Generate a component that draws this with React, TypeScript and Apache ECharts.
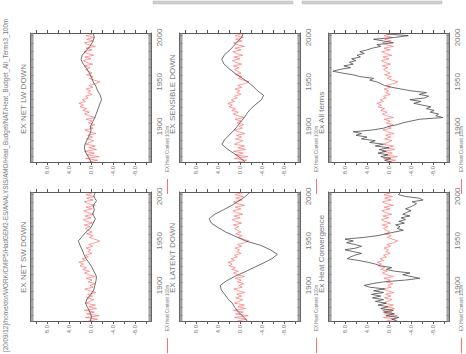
import React, { useEffect, useRef } from "react";
import * as echarts from "echarts";

// ---- data ----
const START_YEAR = 1860;
// Heat content (red), every 2 years from 1860
const heatContent100m = [
  0.5, -1.2, 1.0, -1.5, 0.8, -0.6, 1.2, -1.0, 0.4, -0.8, // 1860-1878
  1.0, 0.2, -0.5, 0.8, -0.3, 0.6, -0.9, 0.3, 1.1, -0.4, // 1880-1898
  0.2, -0.7, 0.5, -0.2, 0.9, -0.8, 0.4, 1.2, 0.3, 1.5, // 1900-1918
  0.8, 2.0, 1.4, 2.2, 1.0, 1.6, 0.5, 1.0, -0.2, 0.6, // 1920-1938
  0.1, 0.9, -0.3, 0.4, -0.8, -1.6, -0.6, 0.3, -0.4, 0.8, // 1940-1958
  -0.2, 0.5, 1.0, 0.2, 1.2, -0.3, 0.8, 1.4, 0.0, 1.1, // 1960-1978
  -0.5, 0.7, 1.3, -0.2, 0.9, -0.8, 0.6, 1.2, -0.4, 0.8, // 1980-1998
  -0.6, 0.9, -0.3, // 2000-2004
];
// every 5 years from 1860
const netLwDown = [
  0.0, 0.4, 0.9, 1.2, 1.1, 0.7, 0.3, 0.0, 0.1, -0.3,
  -0.7, -1.0, -1.3, -1.6, -1.9, -1.7, -1.2, -0.9, -0.4, -0.1,
  0.3, 0.8, 1.4, 1.8, 1.6, 0.9, 0.2, -0.3, -0.6, -0.4,
];
const netSwDown = [
  0.1, -0.1, 0.2, 0.6, 1.0, 0.7, 0.0, -0.5, -0.7, -0.9,
  -1.0, -0.6, -0.2, 0.3, 0.9, 1.3, 1.6, 2.0, 2.3, 1.6,
  0.9, 0.0, -0.4, -0.8, -0.3, -0.6, -0.4, -1.0, -0.5, -0.8,
];
const sensibleDown = [
  -0.9, 0.0, 1.2, 2.4, 3.3, 2.8, 2.0, 1.2, 0.5, -0.1,
  -0.8, -1.3, -2.0, -2.9, -3.9, -4.3, -3.2, -2.4, -1.4, -0.2,
  1.0, 2.0, 2.9, 3.3, 2.9, 2.0, 1.2, 0.5, -0.3, -0.6,
];
const latentDown = [
  -1.3, -0.6, 0.3, 0.9, 1.4, 2.2, 2.8, 3.4, 3.6, 2.5,
  1.0, -0.8, -2.5, -4.2, -5.8, -6.8, -5.5, -3.8, -1.0, 0.8,
  2.6, 4.0, 5.2, 5.6, 4.6, 3.0, 1.5, 0.2, -1.0, -1.8,
];
// every 2 years from 1860
const allTerms = [
  -0.5, 0.8, -0.3, 1.5, 0.2, 2.0, 0.5, 1.8, 0.0, 2.5, // 1860-1878
  1.0, 3.5, 2.5, 5.0, 4.0, 6.0, 5.0, 6.5, 3.0, 1.0, // 1880-1898
  0.0, -1.5, -2.5, -4.0, -5.5, -9.8, -8.5, -9.0, -7.5, -8.2, // 1900-1918
  -6.8, -7.6, -6.0, -4.5, -5.8, -3.8, -6.5, -7.2, -5.5, -6.8, // 1920-1938
  -4.0, -2.2, -0.5, 0.8, 1.5, 2.2, 3.5, 2.8, 5.3, 6.5, // 1940-1958
  8.5, 10.2, 9.0, 7.0, 8.2, 6.5, 7.2, 6.0, 6.8, 5.2, // 1960-1978
  5.8, 4.5, 5.3, 4.0, 3.0, 1.5, 2.2, -0.8, 1.0, 2.8, // 1980-1998
  -1.0, -3.5, 0.5, // 2000-2004
];
const heatConvergence = [
  -1.5, -0.5, -1.8, 0.5, -1.0, 1.0, -0.8, 1.5, 0.2, 2.0, // 1860-1878
  0.5, 2.5, 1.0, 3.0, 1.5, 3.2, 1.0, 2.8, 0.8, 3.5, // 1880-1898
  4.5, 3.0, 1.0, -3.0, -5.6, -4.0, -2.5, -3.8, -1.0, 0.5, // 1900-1918
  -0.5, 1.5, 2.5, 3.8, 5.5, 7.6, 7.0, 6.2, 5.0, 6.5, // 1920-1938
  8.0, 6.0, 5.0, 6.2, 7.7, 6.5, 8.0, 4.5, 2.0, 0.5, // 1940-1958
  -1.0, -2.6, -1.5, -2.0, -1.2, -2.8, -1.8, -3.0, -2.2, -3.8, // 1960-1978
  -2.5, -3.2, -4.0, -3.0, -3.8, -4.5, -5.0, -4.2, -6.2, -5.5, // 1980-1998
  -3.0, -1.7, -2.0, // 2000-2004
];

const titles = [
  "EX NET LW DOWN",
  "EX NET SW DOWN",
  "EX SENSIBLE DOWN",
  "EX LATENT DOWN",
  "Ex All terms",
  "Ex Heat Convergence",
];
const legendLabel = "EX Heat Content 100m";
const pathLabel =
  "[20/09/12]/home/dor/WORK/CMIP5/HadGEM2-ES/ANALYSIS/AMO/Heat_Budget/NAT/Heat_Budget_All_Terms3_100m";
const valueTickLabels = [8, 4, 0, -4, -8];
const valueTicks = [-10, -8, -6, -4, -2, 0, 2, 4, 6, 8, 10];
const yearTickLabels = [1900, 1950, 2000];

const panelSeries = [netLwDown, netSwDown, sensibleDown, latentDown, allTerms, heatConvergence];
const panelSteps = [5, 5, 5, 5, 2, 2];

// ---- layout ----
const FONT = "Liberation Sans, Arial, sans-serif";
const BOX_W = 121;
const BOX_H = 129;
const COL_LEFT = [30.5, 179.5, 328.5];
const ROW_TOP = [33, 192];
const TEXT_GRAY = "#7a7a7a";
const AXIS_GRAY = "#5a5a5a";
const RED = "#ff7070";

function toPairs(vals: number[], step: number) {
  return vals.map((v, k) => [v, START_YEAR + k * step]);
}

export default function App() {
  const ref = useRef<HTMLDivElement>(null);
  useEffect(() => {
    if (!ref.current) return;
    const chart = echarts.init(ref.current, undefined, { renderer: "svg" });
    const grids: any[] = [];
    const xAxes: any[] = [];
    const yAxes: any[] = [];
    const series: any[] = [];
    const graphic: any[] = [];

    const rot = (text: string, x: number, y: number, size: number, extra: any = {}) => ({
      type: "text",
      x,
      y,
      rotation: Math.PI / 2,
      silent: true,
      style: {
        text,
        fontSize: size,
        fontFamily: FONT,
        fill: TEXT_GRAY,
        align: "left",
        verticalAlign: "middle",
        ...extra,
      },
    });

    panelSeries.forEach((vals, i) => {
      const col = Math.floor(i / 2);
      const row = i % 2;
      const left = COL_LEFT[col];
      const top = ROW_TOP[row];
      grids.push({ left, top, width: BOX_W, height: BOX_H, show: false });
      const xBase = {
        type: "value",
        gridIndex: i,
        min: -11,
        max: 11,
        inverse: true,
        splitLine: { show: false },
        axisLine: { show: true, onZero: false, lineStyle: { color: AXIS_GRAY, width: 1 } },
        axisTick: { show: true, customValues: valueTicks, length: 3, lineStyle: { color: AXIS_GRAY } },
      };
      xAxes.push({
        ...xBase,
        position: "bottom",
        axisLabel: {
          customValues: valueTickLabels,
          rotate: 90,
          fontSize: 6,
          color: TEXT_GRAY,
          fontFamily: FONT,
          margin: 4,
          formatter: (v: number) => v.toFixed(1),
        },
      });
      xAxes.push({ ...xBase, position: "top", axisLabel: { show: false } });
      const yBase = {
        type: "value",
        gridIndex: i,
        min: 1860,
        max: 2005,
        interval: 1,
        splitLine: { show: false },
        axisLine: { show: true, onZero: false, lineStyle: { color: AXIS_GRAY, width: 1 } },
        axisTick: { show: true, inside: true, length: 3, lineStyle: { color: "#7a7a7a", width: 0.7 } },
      };
      yAxes.push({
        ...yBase,
        position: "right",
        axisLabel: {
          customValues: yearTickLabels,
          rotate: 90,
          fontSize: 8,
          color: TEXT_GRAY,
          fontFamily: FONT,
          margin: 4,
          formatter: (v: number) => String(v),
        },
      });
      yAxes.push({ ...yBase, position: "left", axisLabel: { show: false } });

      series.push({
        type: "line",
        xAxisIndex: 2 * i,
        yAxisIndex: 2 * i,
        data: toPairs(heatContent100m, 2),
        symbol: "none",
        silent: true,
        lineStyle: { color: RED, width: 0.7 },
      });
      series.push({
        type: "line",
        xAxisIndex: 2 * i,
        yAxisIndex: 2 * i,
        data: toPairs(vals, panelSteps[i]),
        symbol: "none",
        silent: true,
        lineStyle: { color: "#4a4a4a", width: 0.8 },
      });

      // title
      graphic.push(rot(titles[i], left - 7, top + BOX_H - 28, 8));
      // legend
      const lx = col === 2 ? left + BOX_W + 12 : left + BOX_W + 16;
      graphic.push({
        type: "line",
        silent: true,
        shape: { x1: lx, y1: top + BOX_H + 32, x2: lx, y2: top + BOX_H + 17 },
        style: { stroke: RED, lineWidth: 1 },
      });
      graphic.push(rot(legendLabel, lx, top + BOX_H + 10, 4.5));
    });

    graphic.push(rot(pathLabel, 5, 352, 6.3));
    // clipped strips at the top edge
    [153, 302].forEach((x) => {
      graphic.push({
        type: "rect",
        silent: true,
        shape: { x, y: 1, width: 140, height: 3 },
        style: { fill: "#d0d0d0", stroke: "#b5b5b5", lineWidth: 0.5 },
      });
    });

    chart.setOption({
      animation: false,
      backgroundColor: "#ffffff",
      grid: grids,
      xAxis: xAxes,
      yAxis: yAxes,
      series,
      graphic,
    });
    return () => chart.dispose();
  }, []);
  return (
    <div
      ref={ref}
      style={{ position: "fixed", left: 0, top: 0, width: 466, height: 354, background: "#fff" }}
    />
  );
}
